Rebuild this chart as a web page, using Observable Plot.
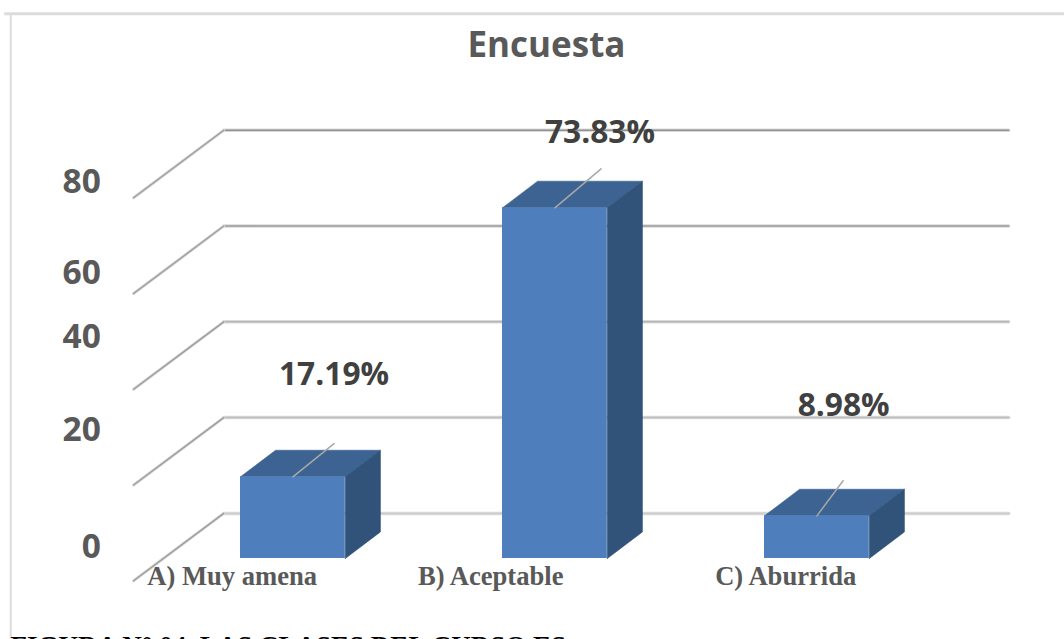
<!DOCTYPE html>
<html>
<head>
<meta charset="utf-8">
<script src="https://cdn.jsdelivr.net/npm/d3@7"></script>
<script src="https://cdn.jsdelivr.net/npm/@observablehq/plot@0.6"></script>
<style>
  html, body { margin: 0; padding: 0; background: #fff; overflow: hidden; }
  svg { display: block; }
</style>
</head>
<body>
<div id="chart"></div>
<script>
// Survey results, percent of answers per option
const categories = ["A) Muy amena", "B) Aceptable", "C) Aburrida"];
const percents = [17.19, 73.83, 8.98];
const percentLabels = ["17.19%", "73.83%", "8.98%"];
const gridValues = [0, 20, 40, 60, 80];
const tickLabels = ["0", "20", "40", "60", "80"];

// Offsets of the hand-placed annotations, in axis units
const tickLabelY = [2.3, 27, 46.6, 60, 79.2];
const labelLift = [21.5, 15.8, 23.2];
const labelShift = [0.157, 0.172, 0.102];
const leaderRun = [0.157, 0.176, 0.1];
const leaderRise = [7, 8.2, 7.4];
const categoryLabelX = [-0.032, 0.955, 2.081];

// Fake 3-D geometry of the plot box
const barWidth = 0.4;
const barDepthX = 0.134;
const barDepthY = 5.6;
const wallDepthX = 0.344;
const wallDepthY = 14.2;
const wallFrontX = -0.408;
const wallEndX = 2.932;
const wallScale = 1.008;
const floorFrontY = -4.7;

const colors = { front: "#4e7fbc", top: "#3c6391", side: "#315279" };
const gridCore = { 0: "#cdcdcd", 20: "#bdbdbd", 40: "#b5b5b5", 60: "#9c9c9c", 80: "#909090" };

const bars = percents.map((value, i) => ({ i, value }));

// Parallelogram faces of each box, drawn as filled closed lines
const faces = bars.flatMap(({ i, value }) => {
  const r = i + barWidth;
  const dx = barDepthX, dy = barDepthY;
  const top = [[i, value], [r, value], [r + dx, value + dy], [i + dx, value + dy], [i, value]];
  const side = [[r, 0], [r + dx, dy], [r + dx, value + dy], [r, value], [r, 0]];
  return [
    ...top.map(([x, y]) => ({ x, y, face: "top", key: `t${i}` })),
    ...side.map(([x, y]) => ({ x, y, face: "side", key: `s${i}` }))
  ];
});

// Gridlines: a slanted run on the side wall, then a straight run on the back wall
const wallY = (v) => v * wallScale + floorFrontY;
const slants = gridValues.flatMap((v) => [
  { x: wallFrontX, y: wallY(v), v },
  { x: wallFrontX + wallDepthX, y: wallY(v) + wallDepthY, v }
]);
const backs = gridValues.flatMap((v) => [
  { x: wallFrontX + wallDepthX, y: wallY(v) + wallDepthY, v },
  { x: wallEndX, y: wallY(v) + wallDepthY, v }
]);

const leaders = bars.flatMap(({ i, value }) => [
  { x: i + barWidth / 2, y: value, i },
  { x: i + barWidth / 2 + leaderRun[i], y: value + leaderRise[i], i }
]);

const sans = "'Open Sans', sans-serif";
const serif = "'Liberation Serif', serif";

const chart = Plot.plot({
  width: 1064,
  height: 639,
  margin: 0,
  style: { background: "#fff", overflow: "hidden" },
  x: { domain: [0, 2], range: [240, 764], axis: null },
  y: { domain: [0, 80], range: [558, 178], axis: null },
  marks: [
    // Outer chart frame
    Plot.ruleY([114.7], { x1: -0.9, x2: 3.15, stroke: "#dcdcdc", strokeWidth: 3 }),
    Plot.ruleX([-0.877], { y1: -17, y2: 114.7, stroke: "#dcdcdc", strokeWidth: 2 }),

    // Gridlines behind the boxes: a light halo under a darker core
    Plot.line(backs, { x: "x", y: "y", z: "v", stroke: "#dadada", strokeWidth: 3.5 }),
    Plot.line(backs, { x: "x", y: "y", z: "v", stroke: (d) => gridCore[d.v], strokeWidth: 1.5 }),
    Plot.line(slants, { x: "x", y: "y", z: "v", stroke: "#d8d8d8", strokeWidth: 3 }),
    Plot.line(slants, { x: "x", y: "y", z: "v", stroke: "#9c9c9c", strokeWidth: 1.3 }),

    // Boxes
    Plot.line(faces, {
      x: "x", y: "y", z: "key",
      fill: (d) => colors[d.face], stroke: (d) => colors[d.face], strokeWidth: 0.6
    }),
    Plot.rect(bars, {
      x1: "i", x2: (d) => d.i + barWidth, y1: 0, y2: "value",
      fill: colors.front
    }),

    // Leader ticks rising from each box
    Plot.line(leaders, { x: "x", y: "y", z: "i", stroke: "#a8a8a8", strokeWidth: 1.5 }),

    // Percent labels
    Plot.text(bars, {
      x: (d) => d.i + barWidth / 2 + labelShift[d.i],
      y: (d) => d.value + labelLift[d.i],
      text: (d) => percentLabels[d.i],
      fontFamily: sans, fontWeight: 700, fontSize: 31.7, fill: "#404040"
    }),

    // Value axis labels
    Plot.text(tickLabels, {
      x: -0.533, y: (d, i) => tickLabelY[i], text: (d) => d,
      textAnchor: "end",
      fontFamily: sans, fontWeight: 700, fontSize: 33.5, fill: "#595959"
    }),

    // Category labels
    Plot.text(categories, {
      x: (d, i) => categoryLabelX[i], y: -3.8, text: (d) => d,
      fontFamily: serif, fontWeight: 700, fontSize: 26.6, fill: "#595959"
    }),

    // Chart title
    Plot.text(["Encuesta"], {
      frameAnchor: "top", dx: 14, dy: 32, text: (d) => d,
      fontFamily: sans, fontWeight: 700, fontSize: 35, fill: "#595959", lineAnchor: "top"
    }),

    // Figure caption running off the lower edge
    Plot.text(["FIGURA N° 04. LAS CLASES DEL CURSO ES"], {
      frameAnchor: "bottom-left", dx: 10, dy: -4, text: (d) => d,
      fontFamily: serif, fontWeight: 700, fontSize: 27, fill: "#000", lineAnchor: "top"
    })
  ]
});

document.getElementById("chart").append(chart);
</script>
</body>
</html>
